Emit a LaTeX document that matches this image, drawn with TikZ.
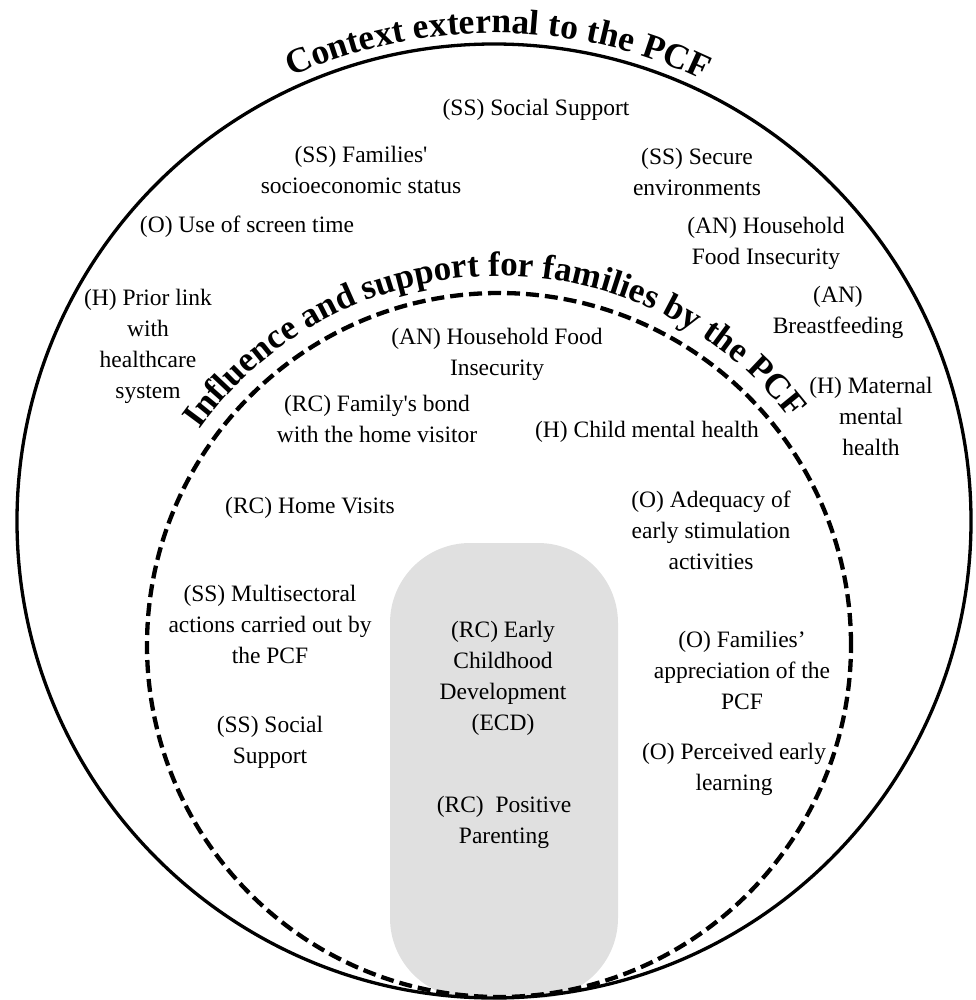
\documentclass[tikz,border=0pt]{standalone}
\usepackage{fontspec}
\setmainfont{Liberation Serif}
\usetikzlibrary{decorations.text}
\definecolor{Ink}{HTML}{000000}
\definecolor{Core}{HTML}{E0E0E0}
\newcommand{\labelfont}{\fontsize{23.5}{31}\selectfont}
\newcommand{\outerfont}{\fontsize{35.5}{40}\selectfont\bfseries}
\newcommand{\innerfont}{\fontsize{35}{38}\selectfont\bfseries}
\tikzset{
  factor/.style={align=center,inner sep=0pt,font=\labelfont,text=Ink},
  outerring/.style={draw=Ink,line width=3.3pt},
  innerring/.style={draw=Ink,line width=4.3pt,dash pattern=on 13pt off 6pt},
  corebox/.style={rectangle,rounded corners=80pt,fill=Core,draw=none,
    minimum width=228pt,minimum height=455pt},
  ringtitle/.style={decorate,decoration={text along path,text align=center,text={#1}}},
}

\begin{document}
\begin{tikzpicture}[x=1pt,y=1pt]
  \useasboundingbox (0,0) rectangle (975,-1000);
  % PCF core and the two rings
  \node[corebox] (core) at (504,-770.5) {};
  \draw[innerring] (499,-645) circle[radius=352];
  \draw[outerring] (494,-521) circle[radius=477];
  \path[ringtitle={|\outerfont|Context external to the PCF}]
    (494,-521) ++(149.5:488) arc[start angle=149.5,end angle=29.5,radius=488];
  \path[ringtitle={|\innerfont|Influence and support for families by the PCF}]
    (499,-645) ++(151:369) arc[start angle=151,end angle=31,radius=369];

  % external context
  \node[factor] (extSupport) at (536,-110) {(SS) Social Support};
  \node[factor] (extIncome) at (361,-170) {(SS) Families\textquotesingle\\socioeconomic status};
  \node[factor] (extSecure) at (697,-172) {(SS) Secure\\environments};
  \node[factor] (extScreen) at (247,-227) {(O) Use of screen time};
  \node[factor] (extFood) at (766,-243) {(AN) Household\\Food Insecurity};
  \node[factor] (extBreast) at (838,-312) {(AN)\\Breastfeeding};
  \node[factor] (extMaternal) at (871,-416) {(H) Maternal\\mental\\health};
  \node[factor] (extHealth) at (148,-346) {(H) Prior link\\with\\healthcare\\system};

  % influence of the PCF
  \node[factor] (pcfFood) at (497,-354) {(AN) Household Food\\Insecurity};
  \node[factor] (pcfBond) at (377,-419) {(RC) Family\textquotesingle s bond\\with the home visitor};
  \node[factor] (pcfChild) at (647,-432) {(H) Child mental health};
  \node[factor] (pcfVisits) at (310,-508) {(RC) Home Visits};
  \node[factor] (pcfStim) at (711,-530) {(O) Adequacy of\\early stimulation\\activities};
  \node[factor] (pcfActions) at (270,-624) {(SS) Multisectoral\\actions carried out by\\the PCF};
  \node[factor] (pcfSupport) at (270,-742) {(SS) Social\\Support};
  \node[factor] (pcfApprec) at (742,-670) {(O) Families’\\appreciation of the\\PCF};
  \node[factor] (pcfLearn) at (734,-769) {(O) Perceived early\\learning};

  % core outcomes
  \node[factor] (ecd) at (503,-678) {(RC) Early\\Childhood\\Development\\(ECD)};
  \node[factor] (parenting) at (504,-822) {(RC)\ \ Positive\\Parenting};
\end{tikzpicture}
\end{document}
